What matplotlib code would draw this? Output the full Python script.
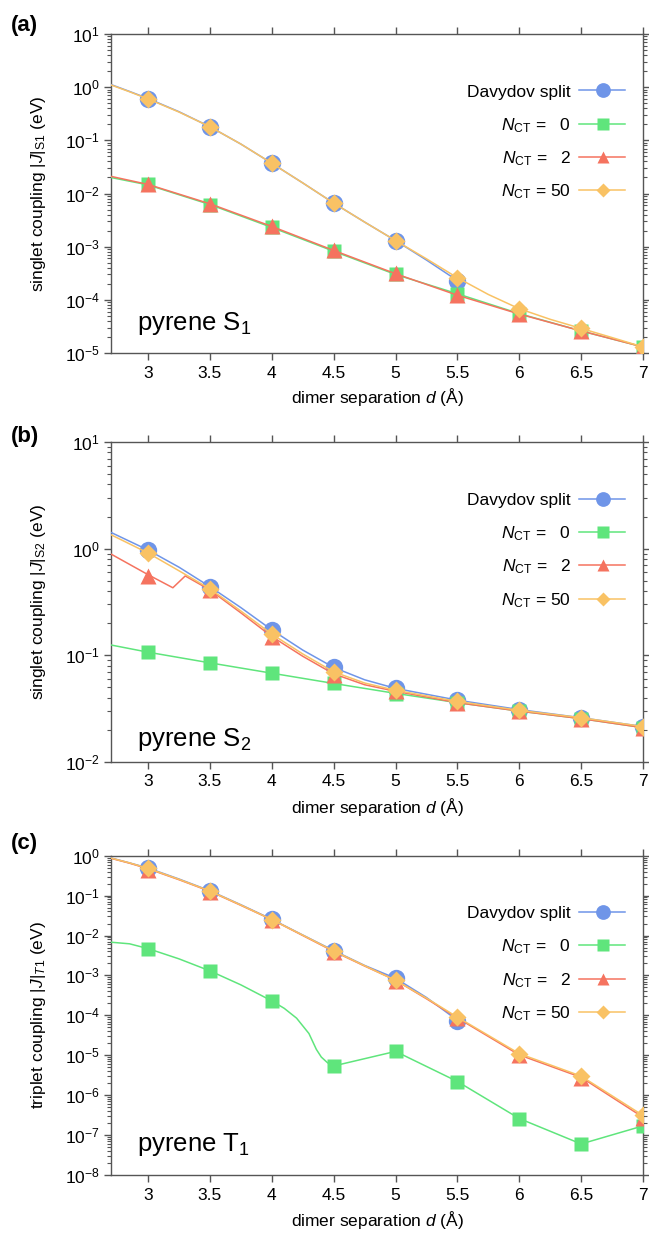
import numpy as np
import matplotlib
matplotlib.use("Agg")
import matplotlib.pyplot as plt
from matplotlib.ticker import LogLocator, NullFormatter, FixedLocator, FixedFormatter
from matplotlib.lines import Line2D

plt.rcParams['font.family'] = ['Liberation Sans', 'DejaVu Sans']
plt.rcParams['mathtext.fontset'] = 'custom'
plt.rcParams['mathtext.rm'] = 'Liberation Sans'
plt.rcParams['mathtext.it'] = 'Liberation Sans:italic'
plt.rcParams['mathtext.bf'] = 'Liberation Sans:bold'

# ---------------- data ----------------
d_pts = [3.0, 3.5, 4.0, 4.5, 5.0, 5.5, 6.0, 6.5, 7.0]
x_ticks = [3.0, 3.5, 4.0, 4.5, 5.0, 5.5, 6.0, 6.5, 7.0]
x_tick_labels = ['3', '3.5', '4', '4.5', '5', '5.5', '6', '6.5', '7']
series_names = ['Davydov split', r'$N_{\mathrm{CT}}$ =   0', r'$N_{\mathrm{CT}}$ =   2', r'$N_{\mathrm{CT}}$ = 50']

# panel (a): pyrene S1
a_dav = [0.60, 0.18, 0.037, 0.0066, 0.0013, 0.00023]          # d = 3 ... 5.5
a_n0 = [0.0148, 0.0062, 0.0023, 0.00082, 0.00030, 0.00013, 5.5e-5, 2.6e-5, 1.3e-5]
a_n2 = [0.0152, 0.0064, 0.0024, 0.00085, 0.00032, 0.000122, 5.4e-5, 2.6e-5, 1.3e-5]
a_n50 = [0.60, 0.18, 0.037, 0.0066, 0.0013, 0.00026, 6.8e-5, 2.9e-5, 1.3e-5]
a_curve_d = [2.7, 2.85, 3.0, 3.25, 3.5, 3.75, 4.0, 4.25, 4.5, 4.75, 5.0, 5.25, 5.5,
             5.75, 6.0, 6.25, 6.5, 6.75, 7.0]
a_curve_dav = [1.12, 0.83, 0.61, 0.345, 0.18, 0.085, 0.037, 0.0158, 0.0066, 0.0029,
               0.0013, 0.00056, 0.00023]
a_curve_n50 = [1.10, 0.82, 0.60, 0.34, 0.18, 0.085, 0.037, 0.0158, 0.0066, 0.0029,
               0.0013, 0.00059, 0.00026, 0.000126, 6.8e-5, 4.3e-5, 2.9e-5, 1.95e-5, 1.3e-5]
a_curve_low_d = [2.7, 3.0, 3.5, 4.0, 4.5, 5.0, 5.5, 6.0, 6.5, 7.0]
a_curve_n0 = [0.020, 0.0145, 0.0062, 0.0023, 0.00082, 0.00030, 0.00013, 5.5e-5, 2.6e-5, 1.3e-5]
a_curve_n2 = [0.021, 0.0148, 0.0064, 0.0024, 0.00085, 0.00031, 0.000122, 5.4e-5, 2.6e-5, 1.3e-5]

# panel (b): pyrene S2
b_dav = [0.97, 0.44, 0.173, 0.077, 0.049, 0.038, 0.031, 0.026, 0.0215]
b_n0 = [0.107, 0.085, 0.068, 0.055, 0.043, 0.036, 0.030, 0.0255, 0.021]
b_n2 = [0.56, 0.41, 0.15, 0.066, 0.046, 0.036, 0.030, 0.0255, 0.021]
b_n50 = [0.91, 0.42, 0.158, 0.070, 0.047, 0.037, 0.0305, 0.026, 0.0215]
b_curve_d = [2.7, 3.0, 3.25, 3.5, 3.75, 4.0, 4.25, 4.5, 4.75, 5.0, 5.5, 6.0, 6.5, 7.0]
b_curve_dav = [1.42, 0.97, 0.67, 0.44, 0.28, 0.173, 0.112, 0.077, 0.059, 0.049,
               0.038, 0.031, 0.026, 0.0215]
b_curve_n50 = [1.35, 0.91, 0.62, 0.42, 0.26, 0.158, 0.103, 0.070, 0.055, 0.047,
               0.037, 0.0305, 0.026, 0.0215]
b_curve_n2_d = [2.7, 3.0, 3.2, 3.3, 3.5, 3.75, 4.0, 4.25, 4.5, 4.75, 5.0, 5.5, 6.0, 6.5, 7.0]
b_curve_n2 = [0.89, 0.57, 0.43, 0.555, 0.41, 0.25, 0.15, 0.098, 0.067, 0.053, 0.046,
              0.036, 0.030, 0.0255, 0.021]
b_curve_n0_d = [2.7, 3.0, 3.5, 4.0, 4.5, 5.0, 5.5, 6.0, 6.5, 7.0]
b_curve_n0 = [0.125, 0.107, 0.085, 0.068, 0.0545, 0.044, 0.036, 0.030, 0.0255, 0.021]

# panel (c): pyrene T1
c_dav = [0.49, 0.132, 0.0255, 0.0042, 0.00087, 7.2e-5]        # d = 3 ... 5.5
c_n0 = [0.0046, 0.0013, 0.00023, 5.4e-6, 1.25e-5, 2.2e-6, 2.6e-7, 6e-8, 1.7e-7]
c_n2 = [0.45, 0.125, 0.024, 0.0039, 0.00073, 8.4e-5, 1.0e-5, 2.7e-6, 2.7e-7]
c_n50 = [0.48, 0.13, 0.025, 0.0041, 0.00075, 9e-5, 1.1e-5, 3.0e-6, 3.1e-7]
c_curve_d = [2.7, 2.85, 3.0, 3.25, 3.5, 3.75, 4.0, 4.25, 4.5, 4.75, 5.0, 5.25, 5.5,
             6.0, 6.5, 7.0]
c_curve_dav = [0.88, 0.66, 0.49, 0.26, 0.132, 0.059, 0.0255, 0.0103, 0.0042, 0.00178,
               0.00085, 0.00028, 7.5e-5]
c_curve_n2 = [0.86, 0.65, 0.47, 0.25, 0.128, 0.057, 0.025, 0.0100, 0.0040, 0.00172,
              0.00076, 0.00026, 8.6e-5, 1.02e-5, 2.8e-6, 2.8e-7]
c_curve_n50 = [0.87, 0.66, 0.48, 0.255, 0.13, 0.058, 0.025, 0.0102, 0.0041, 0.00175,
               0.00075, 0.00027, 9e-5, 1.1e-5, 3.0e-6, 3.1e-7]
c_curve_n0_d = [2.7, 2.85, 3.0, 3.25, 3.5, 3.75, 4.0, 4.1, 4.2, 4.3, 4.36, 4.4, 4.45,
                4.5, 5.0, 5.5, 6.0, 6.5, 7.0]
c_curve_n0 = [0.0068, 0.0062, 0.0047, 0.0026, 0.0013, 0.00058, 0.00023, 0.00015, 8.5e-5,
              3.5e-5, 1.4e-5, 9e-6, 6.5e-6, 5.4e-6, 1.25e-5, 2.2e-6, 2.6e-7, 6e-8, 1.7e-7]

# ---------------- style ----------------
colors = ['#6f95e8', '#5fe57c', '#f5735f', '#f9c264']
markers = ['o', 's', '^', 'D']
msizes = [12.5, 10.0, 11.0, 8.8]
spine_col = '#555555'
FS = 12.5

fig = plt.figure(figsize=(6.49, 12.33), dpi=100)
L, W = 111 / 649, (643 - 111) / 649
H = 1233.0
boxes = [(34, 353), (442, 762), (855.7, 1175)]
axes = [fig.add_axes([L, 1 - b / H, W, (b - t) / H]) for t, b in boxes]

panels = [
    dict(ylim=(1e-5, 1e1), ylabel=r'singlet coupling $|J|_{\mathrm{S1}}$ (eV)',
         name=r'pyrene $\mathrm{S}_1$', name_y=0.072,
         pts=[(d_pts[:len(a_dav)], a_dav), (d_pts, a_n0), (d_pts, a_n2), (d_pts, a_n50)],
         curves=[(a_curve_d[:len(a_curve_dav)], a_curve_dav), (a_curve_low_d, a_curve_n0),
                 (a_curve_low_d, a_curve_n2), (a_curve_d, a_curve_n50)]),
    dict(ylim=(1e-2, 1e1), ylabel=r'singlet coupling $|J|_{\mathrm{S2}}$ (eV)',
         name=r'pyrene $\mathrm{S}_2$', name_y=0.05,
         pts=[(d_pts, b_dav), (d_pts, b_n0), (d_pts, b_n2), (d_pts, b_n50)],
         curves=[(b_curve_d, b_curve_dav), (b_curve_n0_d, b_curve_n0),
                 (b_curve_n2_d, b_curve_n2), (b_curve_d, b_curve_n50)]),
    dict(ylim=(1e-8, 1e0), ylabel=r'triplet coupling $|J|_{T1}$ (eV)',
         name=r'pyrene $\mathrm{T}_1$', name_y=0.076,
         pts=[(d_pts[:len(c_dav)], c_dav), (d_pts, c_n0), (d_pts, c_n2), (d_pts, c_n50)],
         curves=[(c_curve_d[:len(c_curve_dav)], c_curve_dav), (c_curve_n0_d, c_curve_n0),
                 (c_curve_d, c_curve_n2), (c_curve_d, c_curve_n50)]),
]

# legend geometry (axes fractions)
leg_text_x = 0.8647
leg_line_x = (0.8797, 0.9662)
leg_mark_x = 0.9254
leg_row0 = 1 - 56.5 / 319.5
leg_dy = 33.3 / 319.5

for ax, p in zip(axes, panels):
    ax.set_yscale('log')
    ax.set_xlim(2.7, 7.0)
    ax.set_ylim(*p['ylim'])
    for i in range(4):
        cx, cy = p['curves'][i]
        ax.plot(cx, cy, '-', color=colors[i], lw=1.1, zorder=3 + 2 * i)
        px, py = p['pts'][i]
        ax.plot(px, py, linestyle='none', marker=markers[i], ms=msizes[i],
                color=colors[i], mec='none', zorder=4 + 2 * i)
    ax.xaxis.set_major_locator(FixedLocator(x_ticks))
    ax.xaxis.set_major_formatter(FixedFormatter(x_tick_labels))
    ax.yaxis.set_major_locator(LogLocator(base=10, numticks=30))
    ax.yaxis.set_minor_locator(LogLocator(base=10, subs=np.arange(2, 10), numticks=100))
    ax.yaxis.set_minor_formatter(NullFormatter())
    for s in ax.spines.values():
        s.set_color(spine_col)
        s.set_linewidth(1.0)
    ax.tick_params(which='both', direction='out', top=True, right=True,
                   color=spine_col, labelsize=FS, labelcolor='black')
    ax.tick_params(which='major', length=5, width=1.0)
    ax.tick_params(which='minor', length=3, width=0.8)
    ax.tick_params(axis='x', pad=4)
    ax.tick_params(axis='y', pad=3)
    ax.set_ylabel(p['ylabel'], fontsize=FS)
    ax.yaxis.set_label_coords(-0.118, 0.5)
    ax.set_xlabel(r'dimer separation $d$ (Å)', fontsize=FS, va='top')
    ax.xaxis.set_label_coords(0.5, -0.105)
    ax.text(0.048, p['name_y'], p['name'], transform=ax.transAxes, fontsize=18.5,
            ha='left', va='baseline')

    # legend keys, right-aligned labels
    for i in range(4):
        yy = leg_row0 - i * leg_dy
        ax.text(leg_text_x, yy - 6.3 / 319.5, series_names[i], transform=ax.transAxes,
                fontsize=FS, ha='right', va='baseline', zorder=30)
        ax.add_line(Line2D(list(leg_line_x), [yy, yy], transform=ax.transAxes,
                           color=colors[i], lw=1.1, zorder=30, clip_on=False))
        ax.add_line(Line2D([leg_mark_x], [yy], transform=ax.transAxes, linestyle='none',
                           marker=markers[i], ms=msizes[i] * 0.85, color=colors[i],
                           mec='none', zorder=31, clip_on=False))

for lab, yc in zip(['(a)', '(b)', '(c)'], [25, 436.7, 843]):
    fig.text(11 / 649, 1 - yc / H, lab, fontsize=16, fontweight='bold',
             ha='left', va='center')

fig.savefig('out.png', dpi=100)
